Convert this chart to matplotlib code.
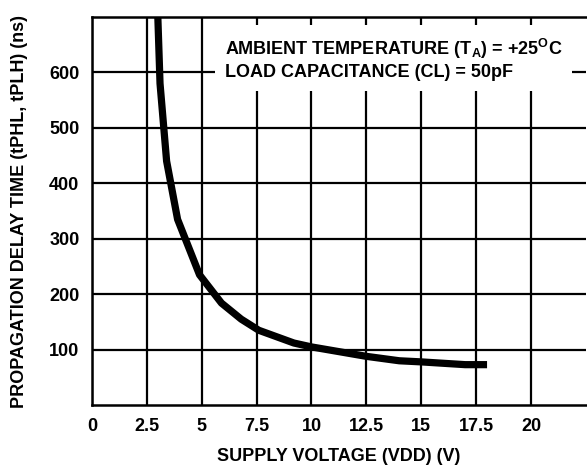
import numpy as np
import matplotlib
matplotlib.use("Agg")
import matplotlib.pyplot as plt

plt.rcParams['font.family'] = ['Liberation Sans', 'DejaVu Sans']
plt.rcParams['font.weight'] = 'bold'
plt.rcParams['mathtext.fontset'] = 'custom'
plt.rcParams['mathtext.rm'] = 'Liberation Sans:bold'
plt.rcParams['mathtext.bf'] = 'Liberation Sans:bold'

# curve
supply_v = [3.0, 3.1, 3.4, 3.9, 4.9, 5.9, 6.8, 7.6, 9.2, 10.0, 12.5, 14.0, 15.0, 17.0, 18.0]
delay_ns = [700, 580, 440, 335, 235, 184, 155, 135, 112, 105, 88, 80, 78, 73, 73]

x_ticks = [0, 2.5, 5, 7.5, 10, 12.5, 15, 17.5, 20]
x_labels = ['0', '2.5', '5', '7.5', '10', '12.5', '15', '17.5', '20']
y_ticks = [100, 200, 300, 400, 500, 600]

fig = plt.figure(figsize=(5.87, 4.70), dpi=100)
ax = fig.add_axes([0.1567, 0.138, 0.8413, 0.826])

ax.plot(supply_v, delay_ns, color='black', linewidth=5.2, solid_capstyle='butt', zorder=4, clip_on=True)

ax.set_xlim(0, 22.5)
ax.set_ylim(0, 700)
ax.set_xticks(x_ticks)
ax.set_xticklabels(x_labels)
ax.set_yticks(y_ticks)
ax.tick_params(length=0, labelsize=13, pad=9)
for lab in ax.get_xticklabels() + ax.get_yticklabels():
    lab.set_fontweight('bold')

ax.grid(True, color='black', linewidth=1.6)
ax.set_axisbelow(True)
for side in ['left', 'bottom', 'top']:
    ax.spines[side].set_linewidth(1.8)
ax.spines['right'].set_visible(False)

ax.set_xlabel('SUPPLY VOLTAGE (VDD) (V)', fontsize=13, fontweight='bold')
ax.set_ylabel('PROPAGATION DELAY TIME (tPHL, tPLH) (ns)', fontsize=13, fontweight='bold')
ax.xaxis.set_label_coords(0.5, -0.11)
ax.yaxis.set_label_coords(-0.13, 0.5)

# conditions note with white background over the grid
note = 'AMBIENT TEMPERATURE (T$_{\\mathrm{A}}$) = +25$^{\\mathrm{O}}$C\nLOAD CAPACITANCE (CL) = 50pF'
ax.text(6.05, 664, note, fontsize=13, fontweight='bold', ha='left', va='top',
        linespacing=1.25, zorder=3,
        bbox=dict(facecolor='white', edgecolor='none', boxstyle='square,pad=0.55'))

fig.savefig('out.png', dpi=100)
